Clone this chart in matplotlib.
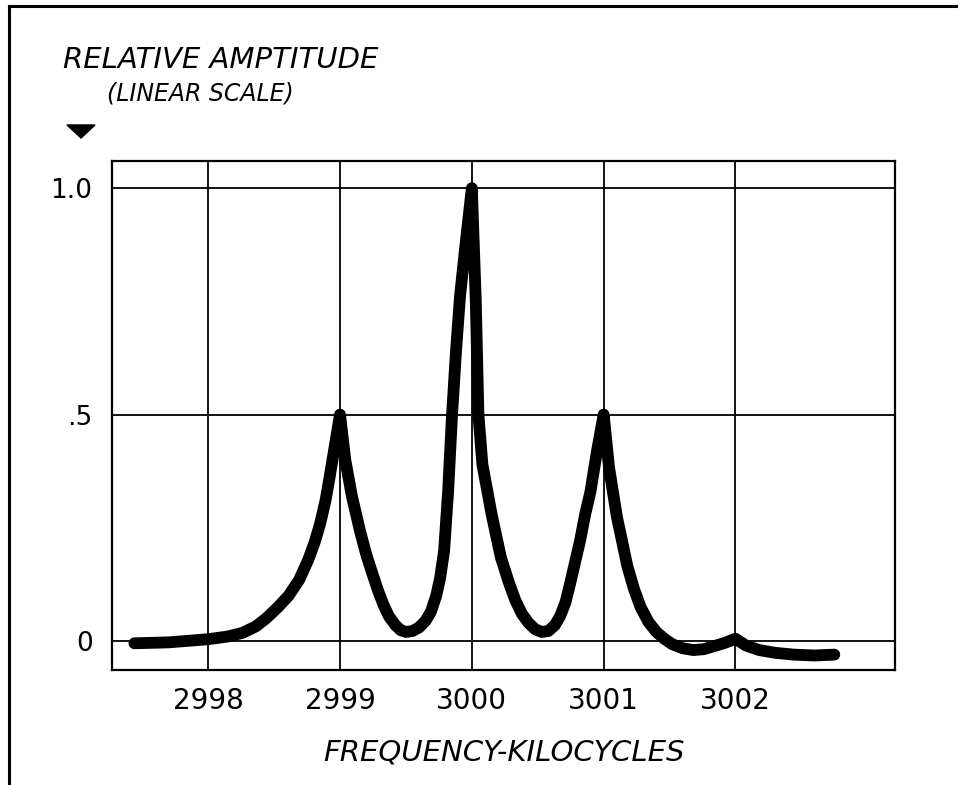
import matplotlib
matplotlib.use('Agg')
import matplotlib.pyplot as plt
from matplotlib.lines import Line2D
from matplotlib.patches import Polygon

# values (kc, relative amplitude)
freq = [2997.44, 2997.7, 2998.0, 2998.15, 2998.26, 2998.36, 2998.44, 2998.53,
        2998.61, 2998.69, 2998.76, 2998.81, 2998.85, 2998.89, 2998.92, 2998.96,
        2999.0,
        2999.04, 2999.09, 2999.15, 2999.2, 2999.25, 2999.29, 2999.33, 2999.37,
        2999.42, 2999.46, 2999.5, 2999.55, 2999.6, 2999.65, 2999.69, 2999.73,
        2999.76, 2999.79, 2999.82, 2999.85, 2999.88, 2999.91, 2999.95,
        3000.0,
        3000.03, 3000.05, 3000.08, 3000.15, 3000.22, 3000.28, 3000.33, 3000.38,
        3000.43, 3000.48, 3000.53, 3000.58, 3000.63, 3000.67, 3000.71, 3000.74,
        3000.78, 3000.82, 3000.86, 3000.9, 3000.95,
        3001.0,
        3001.04, 3001.1, 3001.18, 3001.23, 3001.28, 3001.34, 3001.4, 3001.46,
        3001.52, 3001.6, 3001.68, 3001.76, 3001.83, 3001.92, 3002.0,
        3002.08, 3002.18, 3002.3, 3002.44, 3002.6, 3002.75]
amp = [-0.005, -0.003, 0.004, 0.01, 0.018, 0.032, 0.05, 0.075,
       0.10, 0.135, 0.18, 0.22, 0.26, 0.31, 0.36, 0.43,
       0.5,
       0.40, 0.32, 0.245, 0.19, 0.145, 0.11, 0.08, 0.055,
       0.035, 0.024, 0.02, 0.022, 0.03, 0.045, 0.065, 0.1,
       0.14, 0.2, 0.33, 0.5, 0.64, 0.76, 0.87,
       1.0,
       0.75, 0.5, 0.39, 0.28, 0.185, 0.13, 0.09, 0.06,
       0.04, 0.026, 0.02, 0.022, 0.035, 0.055, 0.085, 0.12,
       0.17, 0.22, 0.28, 0.33, 0.42,
       0.5,
       0.385, 0.275, 0.165, 0.115, 0.075, 0.042, 0.02, 0.005,
       -0.007, -0.016, -0.02, -0.018, -0.012, -0.004, 0.005,
       -0.01, -0.02, -0.026, -0.03, -0.032, -0.03]

x_ticks = [2998, 2999, 3000, 3001, 3002]
x_tick_labels = ['2998', '2999', '3000', '3001', '3002']
y_ticks = [0, 0.5, 1.0]
y_tick_labels = ['0', '.5', '1.0']

fig = plt.figure(figsize=(9.61, 7.85), dpi=100)
ax = fig.add_axes([0.1165, 0.1465, 0.8148, 0.6484])

ax.plot(freq, amp, color='black', lw=8.5,
        solid_capstyle='round', solid_joinstyle='round', zorder=3)

ax.set_xlim(2997.27, 3003.21)
ax.set_ylim(-0.064, 1.06)
ax.set_xticks(x_ticks)
ax.set_xticklabels(x_tick_labels, fontsize=20)
ax.set_yticks(y_ticks)
ax.set_yticklabels(y_tick_labels, fontsize=19)
ax.tick_params(axis='x', length=0, pad=12)
ax.tick_params(axis='y', length=0, pad=14)
ax.grid(True, color='black', lw=1.3)
for sp in ax.spines.values():
    sp.set_linewidth(1.6)

# axis titles (hand lettered, slanted)
fig.text(0.0656, 0.9134, 'RELATIVE AMPTITUDE', fontsize=21,
         style='italic', va='baseline', ha='left')
fig.text(0.111, 0.8726, '(LINEAR SCALE)', fontsize=17,
         style='italic', va='baseline', ha='left')
fig.text(0.5245, 0.0318, 'FREQUENCY-KILOCYCLES', fontsize=21,
         style='italic', va='baseline', ha='center')

# little arrow head under the y title
fig.add_artist(Polygon([(0.0697, 0.8408), (0.0989, 0.8408), (0.0843, 0.8242)],
                       closed=True, color='black', transform=fig.transFigure))

# frame of the page
fig.add_artist(Line2D([0.0094, 0.995], [0.9924, 0.9924], color='black', lw=2.2))
fig.add_artist(Line2D([0.0094, 0.0094], [0.0, 0.9924], color='black', lw=2.2))

fig.savefig('out.png', dpi=100)
